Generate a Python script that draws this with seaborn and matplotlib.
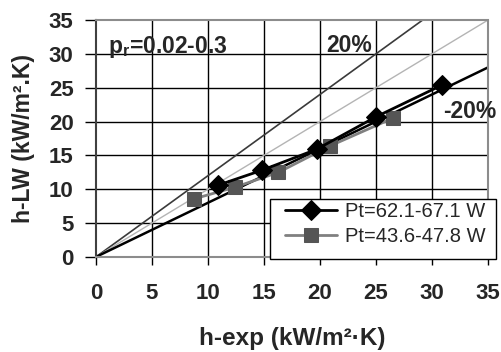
import matplotlib
matplotlib.use("Agg")
import matplotlib.pyplot as plt
from matplotlib.patches import Rectangle
import seaborn as sns
import pandas as pd
import numpy as np

# Heat transfer coefficient: experiment vs. LW correlation
h_exp_high = [10.9, 14.8, 19.7, 25.0, 30.9]
h_lw_high = [10.6, 12.8, 15.9, 20.7, 25.4]
h_exp_low = [8.8, 12.4, 16.3, 20.9, 26.5]
h_lw_low = [8.6, 10.3, 12.5, 16.4, 20.5]
label_high = "Pt=62.1-67.1 W"
label_low = "Pt=43.6-47.8 W"
ticks = [0, 5, 10, 15, 20, 25, 30, 35]
deviation_lines = [1.2, 1.0, 0.8]

sns.set_theme(style="white")
plt.rcParams["font.family"] = ["Liberation Sans", "DejaVu Sans"]
plt.rcParams["mathtext.fontset"] = "custom"
plt.rcParams["mathtext.rm"] = "Liberation Sans:bold"
plt.rcParams["mathtext.bf"] = "Liberation Sans:bold"
plt.rcParams["mathtext.it"] = "Liberation Sans:bold"

fig = plt.figure(figsize=(5.02, 3.52), dpi=100)
ax = fig.add_axes([0.191, 0.270, 0.781, 0.673])

# grid
for t in ticks[1:-1]:
    ax.axvline(t, color="black", lw=1.0, zorder=1)
    ax.axhline(t, color="black", lw=1.0, zorder=1)

# +20%, 1:1 and -20% reference lines
xr = np.array([0, 35.0])
ax.plot(xr, deviation_lines[0] * xr, color="#3a3a3a", lw=1.2, zorder=2)
ax.plot(xr, deviation_lines[1] * xr, color="#b4b4b4", lw=1.0, zorder=2)
ax.plot(xr, deviation_lines[2] * xr, color="black", lw=1.8, zorder=2)

df = pd.concat([
    pd.DataFrame({"x": h_exp_high, "y": h_lw_high, "s": label_high}),
    pd.DataFrame({"x": h_exp_low, "y": h_lw_low, "s": label_low}),
])

sns.lineplot(data=df[df.s == label_low], x="x", y="y", ax=ax, sort=False,
             estimator=None, color="#808080", lw=2.0, marker="s",
             markersize=10, markerfacecolor="#555555", markeredgecolor="#555555",
             label=label_low, zorder=3)
sns.lineplot(data=df[df.s == label_high], x="x", y="y", ax=ax, sort=False,
             estimator=None, color="black", lw=2.0, marker="D",
             markersize=10, markerfacecolor="black", markeredgecolor="black",
             label=label_high, zorder=4)

ax.set_xlim(0, 35)
ax.set_ylim(0, 35)
ax.set_xticks(ticks)
ax.set_yticks(ticks)
ax.tick_params(axis="x", direction="out", length=6, width=1, pad=13,
               labelsize=16, bottom=True, color="black")
ax.tick_params(axis="y", direction="out", length=8, width=1, pad=8,
               labelsize=16, left=True, color="black")
for lab in ax.get_xticklabels() + ax.get_yticklabels():
    lab.set_fontweight("bold")

for side in ["top", "right", "bottom"]:
    ax.spines[side].set_color("#8c8c8c")
    ax.spines[side].set_linestyle((0, (1, 1)))
    ax.spines[side].set_linewidth(1.5)
ax.spines["left"].set_color("#404040")
ax.spines["left"].set_linewidth(1.5)

ax.set_xlabel("h-exp (kW/m²·K)", fontsize=17.5, fontweight="bold")
ax.set_ylabel("h-LW (kW/m².K)", fontsize=16.5, fontweight="bold")
ax.xaxis.set_label_coords(0.5, -0.295)
ax.yaxis.set_label_coords(-0.155, 0.5)

ax.text(1.1, 30.1, r"p$_\mathrm{r}$=0.02-0.3", fontsize=16.5, fontweight="bold")
ax.text(20.6, 30.3, "20%", fontsize=16.5, fontweight="bold")
ax.text(31.0, 20.5, "-20%", fontsize=16.5, fontweight="bold", clip_on=False)

# legend box (frame drawn separately so it can be sized freely)
ax.add_patch(Rectangle((0.538, 0.264), 0.450, 0.171,
                       transform=fig.transFigure, facecolor="white",
                       edgecolor="black", lw=1.0, zorder=9, clip_on=False))
handles, labels = ax.get_legend_handles_labels()
order = [labels.index(label_high), labels.index(label_low)]
leg = ax.legend([handles[i] for i in order], [labels[i] for i in order],
                loc="upper left", bbox_to_anchor=(0.568, 0.427),
                bbox_transform=fig.transFigure, frameon=False,
                fontsize=14.5, handlelength=2.6, borderpad=0,
                labelspacing=0.3, handletextpad=0.35, borderaxespad=0)
leg.set_zorder(10)

fig.savefig("out.png", dpi=100)
